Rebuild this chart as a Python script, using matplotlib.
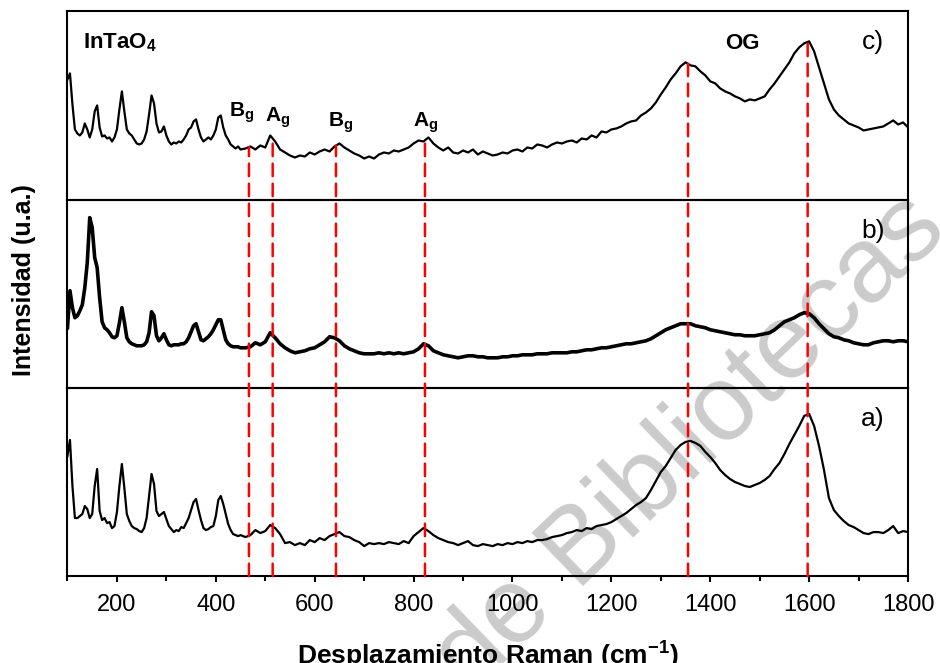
import numpy as np
import matplotlib
matplotlib.use("Agg")
import matplotlib.pyplot as plt
from matplotlib.ticker import MultipleLocator
from matplotlib.patches import ConnectionPatch

plt.rcParams['font.family'] = ['Liberation Sans', 'DejaVu Sans']
plt.rcParams['mathtext.fontset'] = 'custom'
plt.rcParams['mathtext.rm'] = 'Liberation Sans'
plt.rcParams['mathtext.bf'] = 'Liberation Sans:bold'

# Raman shift grid (cm-1): 5 cm-1 steps up to 450, then 10 cm-1 steps
shift_low = np.arange(100, 451, 5)
shift_high = np.arange(460, 1801, 10)
raman_shift = np.concatenate([shift_low, shift_high])

# c) intensity (a.u.)
spec_c = [
    120, 126, 95, 70, 66, 64, 67, 76, 70, 62,      # 100-145
    70, 88, 94, 72, 63, 64, 61, 62, 58, 62,        # 150-195
    70, 90, 108, 88, 70, 66, 64, 60, 56, 55,       # 200-245
    56, 60, 68, 85, 104, 96, 76, 67, 68, 73,       # 250-295
    64, 58, 55, 57, 56, 58, 57, 60, 64, 70,        # 300-345
    72, 78, 80, 70, 62, 58, 60, 62, 60, 64,        # 350-395
    70, 82, 84, 72, 64, 60, 55, 53, 51, 53,        # 400-445
    50,                                            # 450
    51, 53, 50, 54, 52, 64, 58, 50, 47, 44,        # 460-550
    42, 44, 43, 47, 45, 48, 50, 48, 53, 56,        # 560-650
    52, 49, 46, 44, 41, 43, 41, 45, 47, 46,        # 660-750
    49, 48, 50, 52, 56, 59, 58, 62, 56, 52,        # 760-850
    49, 52, 47, 46, 49, 47, 50, 45, 48, 46,        # 860-950
    44, 45, 47, 46, 49, 50, 48, 52, 51, 55,        # 960-1050
    54, 52, 55, 57, 56, 58, 59, 57, 61, 60,        # 1060-1150
    64, 62, 68, 67, 70, 71, 73, 76, 78, 79,        # 1160-1250
    84, 87, 91, 97, 105, 112, 120, 126, 133, 137,  # 1260-1350
    134, 133, 128, 124, 118, 116, 111, 108, 106, 103,  # 1360-1450
    101, 98, 100, 99, 101, 103, 110, 116, 123, 130,    # 1460-1550
    137, 146, 152, 156, 158, 148, 132, 116, 100, 90,   # 1560-1650
    84, 80, 76, 74, 72, 69, 70, 71, 72, 73,        # 1660-1750
    76, 79, 75, 77, 72,                            # 1760-1800
]

# b) intensity (a.u.)
spec_b = [
    60, 97, 80, 70, 72, 77, 83, 100, 125, 170,     # 100-145
    160, 130, 120, 90, 66, 60, 58, 55, 51, 50,     # 150-195
    52, 65, 80, 66, 50, 46, 44, 43, 42, 42,        # 200-245
    42, 43, 46, 55, 76, 72, 52, 47, 50, 54,        # 250-295
    48, 43, 42, 43, 43, 43, 44, 44, 46, 50,        # 300-345
    56, 62, 64, 56, 48, 47, 49, 51, 54, 58,        # 350-395
    63, 68, 68, 58, 48, 44, 42, 41, 41, 41,        # 400-445
    40,                                            # 450
    40, 41, 45, 43, 46, 55, 50, 44, 40, 37,        # 460-550
    35, 36, 37, 39, 40, 43, 46, 51, 50, 47,        # 560-650
    42, 39, 37, 35, 34, 34, 34, 35, 34, 35,        # 660-750
    34, 35, 34, 35, 36, 39, 44, 42, 37, 35,        # 760-850
    33, 32, 31, 30, 31, 32, 32, 31, 31, 30,        # 860-950
    30, 30, 31, 31, 32, 32, 33, 33, 33, 34,        # 960-1050
    34, 34, 35, 35, 35, 35, 36, 36, 37, 38,        # 1060-1150
    38, 39, 40, 40, 41, 42, 43, 44, 44, 45,        # 1160-1250
    46, 47, 49, 52, 55, 58, 60, 62, 64, 64,        # 1260-1350
    64, 62, 61, 60, 58, 57, 56, 55, 54, 53,        # 1360-1450
    53, 52, 52, 52, 53, 54, 55, 58, 62, 66,        # 1460-1550
    68, 70, 73, 75, 74, 70, 64, 59, 54, 51,        # 1560-1650
    50, 48, 47, 45, 44, 43, 43, 45, 46, 47,        # 1660-1750
    47, 46, 47, 47, 46,                            # 1760-1800
]

# a) intensity (a.u.)
spec_a = [
    120, 136, 90, 58, 58, 60, 62, 70, 67, 58,      # 100-145
    62, 90, 107, 65, 56, 58, 53, 54, 48, 50,       # 150-195
    64, 90, 112, 88, 62, 55, 50, 48, 47, 45,       # 200-245
    44, 48, 58, 80, 102, 92, 65, 60, 62, 64,       # 250-295
    57, 50, 47, 44, 46, 45, 49, 48, 53, 58,        # 300-345
    66, 74, 77, 66, 56, 48, 46, 47, 49, 50,        # 350-395
    60, 76, 80, 72, 62, 52, 46, 42, 41, 40,        # 400-445
    41,                                            # 450
    39, 41, 46, 43, 45, 51, 48, 42, 33, 34,        # 460-550
    31, 33, 31, 36, 34, 38, 36, 40, 42, 44,        # 560-650
    40, 39, 36, 34, 30, 33, 32, 33, 32, 34,        # 660-750
    33, 32, 35, 33, 40, 44, 48, 45, 41, 38,        # 760-850
    36, 34, 33, 31, 33, 35, 31, 30, 32, 31,        # 860-950
    30, 32, 31, 33, 32, 34, 33, 35, 34, 36,        # 960-1050
    36, 37, 39, 40, 41, 43, 44, 46, 45, 48,        # 1060-1150
    47, 50, 51, 52, 54, 57, 60, 63, 67, 71,        # 1160-1250
    74, 78, 86, 95, 104, 110, 118, 126, 131, 134,  # 1260-1350
    135, 133, 130, 124, 119, 113, 106, 101, 97, 94,    # 1360-1450
    92, 90, 89, 91, 93, 96, 100, 107, 113, 122,        # 1460-1550
    132, 141, 150, 160, 162, 150, 130, 106, 78, 66,    # 1560-1650
    60, 55, 51, 49, 46, 43, 42, 44, 44, 43,        # 1660-1750
    46, 50, 43, 45, 44,                            # 1760-1800
]

# band positions marked with red dashed lines
band_pos = [467, 515, 643, 823, 1355, 1597]
band_labels = ['B$_\\mathbf{g}$', 'A$_\\mathbf{g}$', 'B$_\\mathbf{g}$', 'A$_\\mathbf{g}$']
band_label_x = [453, 526, 653, 825]
band_label_y = [87, 82, 77, 77]

fig, axes = plt.subplots(3, 1, sharex=True, figsize=(9.4, 6.63), dpi=100,
                         gridspec_kw={'hspace': 0})
fig.subplots_adjust(left=0.0718, right=0.966, bottom=0.131, top=0.983)
ax_c, ax_b, ax_a = axes

ax_c.plot(raman_shift, spec_c, color='black', lw=1.6)
ax_b.plot(raman_shift, spec_b, color='black', lw=2.6)
ax_a.plot(raman_shift, spec_a, color='black', lw=1.6)

for ax, lab in zip(axes, ['c)', 'b)', 'a)']):
    ax.set_ylim(0, 188)
    ax.set_xlim(100, 1800)
    ax.set_yticks([])
    ax.set_facecolor('none')
    for sp in ax.spines.values():
        sp.set_linewidth(1.5)
    ax.tick_params(axis='x', which='both', bottom=False, labelbottom=False)
    ax.text(0.958, 0.835, lab, transform=ax.transAxes, fontsize=19,
            ha='center', va='center')

ax_a.xaxis.set_major_locator(MultipleLocator(200))
ax_a.xaxis.set_minor_locator(MultipleLocator(100))
ax_a.tick_params(axis='x', which='both', bottom=True, labelbottom=True,
                 direction='out', width=1.5, labelsize=17, pad=9)
ax_a.tick_params(axis='x', which='major', length=4)
ax_a.tick_params(axis='x', which='minor', length=3.5)
ax_a.set_xlabel('Desplazamiento Raman (cm$^{\\mathbf{-1}}$)', fontsize=19,
                fontweight='bold', labelpad=16)

fig.text(0.026, 0.577, 'Intensidad (u.a.)', rotation=90, fontsize=18,
         fontweight='bold', ha='center', va='center')

ax_c.text(0.018, 0.835, 'InTaO$_\\mathbf{4}$', transform=ax_c.transAxes,
          fontsize=16, fontweight='bold', ha='left', va='center')
ax_c.text(1464, 156, 'OG', fontsize=16, fontweight='bold', ha='center', va='center')
for lx, ly, lab in zip(band_label_x, band_label_y, band_labels):
    ax_c.text(lx, ly, lab, fontsize=15, fontweight='bold', ha='center', va='center')

# dashed guide lines from the bottom panel up to the top spectrum
for pos in band_pos:
    top = np.interp(pos, raman_shift, spec_c)
    con = ConnectionPatch(xyA=(pos, 0), coordsA=ax_a.transData,
                          xyB=(pos, top), coordsB=ax_c.transData,
                          color='#ff0000', lw=1.8, linestyle=(0, (5, 3)))
    fig.add_artist(con)

fig.text(0.735, 0.330, 'de Bibliotecas', fontsize=77, color='#cbcbcb',
         rotation=44, rotation_mode='anchor', ha='center', va='center', zorder=-1)

plt.savefig('out.png', dpi=100)
